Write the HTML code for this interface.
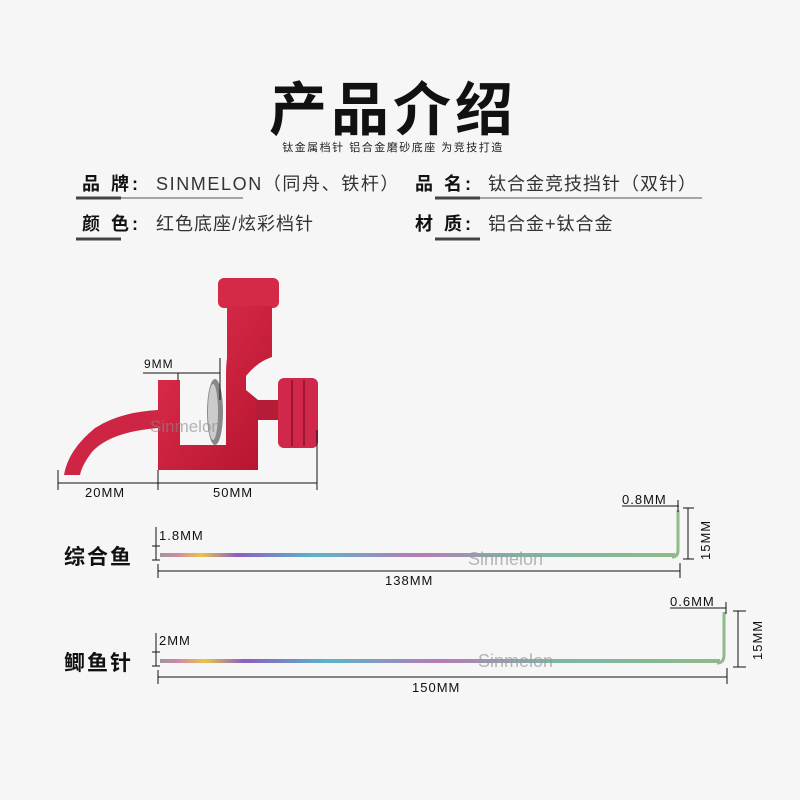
<!DOCTYPE html>
<html><head><meta charset="utf-8"><style>
body{margin:0;background:#f6f6f6;}
svg{display:block}
text{font-family:"Liberation Sans","Noto Sans CJK SC",sans-serif;}
</style></head><body>
<svg width="800" height="800" viewBox="0 0 800 800" xmlns="http://www.w3.org/2000/svg">
<defs>
<linearGradient id="rb" x1="0" y1="0" x2="1" y2="0">
<stop offset="0" stop-color="#999"/><stop offset="0.03" stop-color="#c8a"/><stop offset="0.08" stop-color="#e9c34a"/><stop offset="0.15" stop-color="#8a5fc4"/><stop offset="0.3" stop-color="#5bb5c9"/><stop offset="0.5" stop-color="#b77ab6"/><stop offset="0.7" stop-color="#7bb6a8"/><stop offset="1" stop-color="#8fba8a"/>
</linearGradient>
<linearGradient id="red" x1="0" y1="0" x2="1" y2="1"><stop offset="0" stop-color="#e0304f"/><stop offset="1" stop-color="#b5142e"/></linearGradient>
</defs>
<rect width="800" height="800" fill="#f6f6f6"/>
<text x="393" y="130" font-size="58" font-weight="bold" text-anchor="middle" fill="#111" letter-spacing="4">产品介绍</text>
<text x="393" y="151" font-size="11" text-anchor="middle" fill="#222" letter-spacing="1.5">钛金属档针 铝合金磨砂底座 为竞技打造</text>

<g font-size="18" fill="#111">
<text x="82" y="190" font-weight="bold" letter-spacing="3">品 牌:</text>
<text x="156" y="190" fill="#333" letter-spacing="1.6">SINMELON（同舟、铁杆）</text>
<text x="415" y="190" font-weight="bold" letter-spacing="3">品 名:</text>
<text x="488" y="190" fill="#333" letter-spacing="1">钛合金竞技挡针（双针）</text>
<text x="82" y="230" font-weight="bold" letter-spacing="3">颜 色:</text>
<text x="156" y="230" fill="#333" letter-spacing="1">红色底座/炫彩档针</text>
<text x="415" y="230" font-weight="bold" letter-spacing="3">材 质:</text>
<text x="488" y="230" fill="#333" letter-spacing="1">铝合金+钛合金</text>
</g>
<line x1="76" y1="198" x2="243" y2="198" stroke="#555" stroke-width="1"/>
<line x1="76" y1="198" x2="121" y2="198" stroke="#444" stroke-width="3"/>
<line x1="435" y1="198" x2="702" y2="198" stroke="#555" stroke-width="1"/>
<line x1="435" y1="198" x2="480" y2="198" stroke="#444" stroke-width="3"/>
<line x1="76" y1="239" x2="121" y2="239" stroke="#444" stroke-width="3"/>
<line x1="435" y1="239" x2="480" y2="239" stroke="#444" stroke-width="3"/>

<!-- red bracket -->
<rect x="218" y="278" width="61" height="30" rx="6" fill="#d42a48"/>
<path d="M227 306 H272 V357 Q257 362 246 376 V390 L258 400 V470 H158 V380 H180 V445 H226 V376 Q226 365 227 358 Z" fill="url(#red)"/>
<path d="M158 410 L158 428 Q110 432 92 452 Q82 465 80 475 L64 475 Q68 450 95 428 Q120 412 158 410 Z" fill="#cf2544"/>
<ellipse cx="215" cy="412" rx="8" ry="33" fill="#888"/>
<ellipse cx="213" cy="412" rx="5" ry="28" fill="#ccc"/>
<rect x="256" y="400" width="24" height="20" fill="#b51d37"/>
<rect x="278" y="378" width="40" height="70" rx="6" fill="#d0284a"/>
<line x1="292" y1="380" x2="292" y2="446" stroke="#9e1530" stroke-width="2"/>
<line x1="304" y1="380" x2="304" y2="446" stroke="#9e1530" stroke-width="2"/>
<text x="150" y="432" font-size="17" fill="#888" opacity="0.6">Sinmelon</text>

<g stroke="#111" stroke-width="1" fill="none">
<line x1="143" y1="373" x2="220" y2="373"/>
<line x1="220" y1="358" x2="220" y2="400"/>
<line x1="178" y1="373" x2="178" y2="380"/>
<line x1="58" y1="483" x2="317" y2="483"/>
<line x1="58" y1="470" x2="58" y2="490"/>
<line x1="158" y1="470" x2="158" y2="490"/>
<line x1="317" y1="430" x2="317" y2="490"/>
</g>
<text x="144" y="368" font-size="12" fill="#111" letter-spacing="1">9MM</text>
<text x="85" y="497" font-size="13" fill="#111" letter-spacing="1">20MM</text>
<text x="213" y="497" font-size="13" fill="#111" letter-spacing="1">50MM</text>

<!-- needle 1 -->
<text x="64" y="564" font-size="21" font-weight="bold" fill="#111" letter-spacing="2">综合鱼</text>
<rect x="160" y="553" width="515" height="4" fill="url(#rb)"/>
<path d="M672 557 Q678 557 678 550 V510" stroke="#8fba8a" stroke-width="3" fill="none"/>
<g stroke="#111" stroke-width="1" fill="none">
<line x1="156" y1="527" x2="156" y2="560"/>
<line x1="152" y1="546" x2="160" y2="546"/><line x1="152" y1="560" x2="160" y2="560"/>
<line x1="158" y1="571" x2="680" y2="571"/>
<line x1="158" y1="564" x2="158" y2="578"/>
<line x1="680" y1="563" x2="680" y2="578"/>
<line x1="622" y1="506" x2="679" y2="506"/>
<line x1="678" y1="500" x2="678" y2="512"/>
<line x1="688" y1="508" x2="688" y2="559"/>
<line x1="683" y1="508" x2="694" y2="508"/><line x1="683" y1="559" x2="694" y2="559"/>
</g>
<text x="159" y="540" font-size="13" fill="#111" letter-spacing="1">1.8MM</text>
<text x="622" y="504" font-size="13" fill="#111" letter-spacing="1">0.8MM</text>
<text x="0" y="0" font-size="13" fill="#111" letter-spacing="1" transform="translate(710,560) rotate(-90)">15MM</text>
<text x="385" y="585" font-size="13" fill="#111" letter-spacing="1">138MM</text>
<text x="468" y="565" font-size="18" fill="#999" opacity="0.7">Sinmelon</text>

<!-- needle 2 -->
<text x="64" y="670" font-size="21" font-weight="bold" fill="#111" letter-spacing="2">鲫鱼针</text>
<rect x="160" y="659" width="560" height="4" fill="url(#rb)"/>
<path d="M717 663 Q724 663 724 655 V612" stroke="#8fba8a" stroke-width="3" fill="none"/>
<g stroke="#111" stroke-width="1" fill="none">
<line x1="156" y1="633" x2="156" y2="666"/>
<line x1="152" y1="652" x2="160" y2="652"/><line x1="152" y1="666" x2="160" y2="666"/>
<line x1="158" y1="677" x2="727" y2="677"/>
<line x1="158" y1="670" x2="158" y2="684"/>
<line x1="727" y1="668" x2="727" y2="684"/>
<line x1="670" y1="608" x2="726" y2="608"/>
<line x1="726" y1="602" x2="726" y2="614"/>
<line x1="738" y1="611" x2="738" y2="667"/>
<line x1="733" y1="611" x2="746" y2="611"/><line x1="733" y1="667" x2="746" y2="667"/>
</g>
<text x="159" y="645" font-size="13" fill="#111" letter-spacing="1">2MM</text>
<text x="670" y="606" font-size="13" fill="#111" letter-spacing="1">0.6MM</text>
<text x="0" y="0" font-size="13" fill="#111" letter-spacing="1" transform="translate(762,660) rotate(-90)">15MM</text>
<text x="412" y="692" font-size="13" fill="#111" letter-spacing="1">150MM</text>
<text x="478" y="667" font-size="18" fill="#999" opacity="0.7">Sinmelon</text>
</svg>
</body></html>
